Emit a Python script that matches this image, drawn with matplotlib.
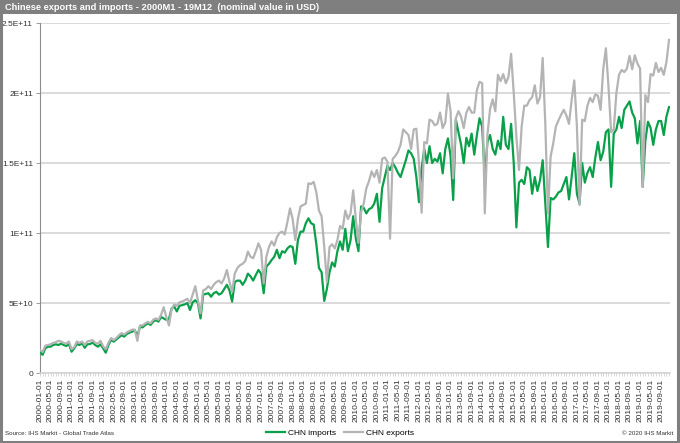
import numpy as np
import pandas as pd
import matplotlib
matplotlib.use('Agg')
from matplotlib import pyplot as plt
from matplotlib.patches import Rectangle

plt.rcParams['font.family'] = ['Liberation Sans', 'DejaVu Sans']

# monthly values, billions USD, 2000-01 .. 2019-12
exports = [
    16.5, 15.0, 19.5, 20.0, 20.5, 21.5, 22.0, 23.0, 22.5, 21.5, 21.0, 22.5,
    17.0, 18.5, 22.5, 21.5, 22.5, 20.0, 22.5, 23.0, 23.5, 21.5, 21.0, 23.0,
    19.0, 17.0, 21.5, 25.0, 23.5, 25.0, 27.0, 28.5, 27.5, 29.0, 30.0, 31.0,
    31.0, 23.0, 34.0, 34.0, 35.5, 36.5, 35.5, 38.0, 39.0, 38.0, 41.5, 47.0,
    40.0, 34.0, 45.5, 49.0, 48.0, 50.5, 51.0, 52.0, 53.0, 50.0, 56.0, 62.0,
    52.0, 42.6, 59.0, 60.0, 62.0, 60.0, 63.0, 65.0, 66.0, 64.0, 67.6, 73.6,
    65.0, 58.0, 71.0, 75.0, 77.0, 78.0, 80.0, 86.7, 83.0, 82.0, 87.0, 92.6,
    88.0, 64.0, 83.0, 90.0, 94.0, 91.0, 97.0, 100.0, 101.0, 99.0, 108.0, 117.6,
    110.0, 95.0, 110.0, 119.0, 120.0, 121.0, 135.5, 135.0, 136.5, 129.0, 116.0, 112.0,
    90.0, 65.0, 90.0, 92.0, 89.0, 95.0, 105.0, 103.0, 116.0, 110.0, 114.0, 130.5,
    110.0, 93.0, 115.0, 121.0, 132.0, 137.0, 144.0, 140.0, 145.0, 136.0, 153.0, 154.0,
    151.0, 96.0, 153.0, 155.0, 158.0, 163.0, 174.0, 172.0, 170.0, 160.0, 174.0, 174.5,
    150.0, 114.5, 165.0, 164.0, 181.0, 180.0, 177.0, 178.0, 186.0, 175.0, 179.0, 199.5,
    187.0, 139.0, 182.0, 187.0, 183.0, 175.0, 186.0, 190.0, 186.0, 186.0, 202.0, 208.0,
    207.0, 114.0, 170.0, 188.5, 195.5, 187.0, 213.0, 208.5, 213.5, 207.0, 211.5, 228.0,
    200.0, 169.0, 145.0, 176.0, 191.0, 191.0, 195.0, 197.0, 205.5, 192.5, 197.0, 225.0,
    177.5, 114.0, 154.5, 164.0, 176.0, 180.5, 184.5, 188.0, 184.0, 178.0, 195.0, 209.0,
    176.0, 120.0, 181.0, 180.0, 191.0, 196.5, 193.5, 199.0, 198.0, 188.0, 217.0, 232.0,
    204.5, 172.0, 174.0, 200.0, 213.0, 216.5, 215.0, 217.5, 226.5, 217.0, 227.0, 221.0,
    217.5, 133.0, 198.5, 193.5, 213.5, 212.5, 221.5, 215.0, 218.0, 213.0, 222.0, 238.0,
]
imports = [
    15.0, 13.0, 17.6, 18.8, 18.8, 20.0, 20.5, 20.0, 21.0, 20.0, 19.3, 20.7,
    15.2, 17.6, 20.7, 20.0, 21.2, 18.0, 20.5, 20.7, 21.7, 20.0, 18.8, 20.5,
    17.6, 14.5, 20.0, 23.6, 22.4, 24.0, 25.5, 27.0, 26.0, 27.9, 28.8, 29.5,
    30.7, 26.4, 33.0, 32.6, 34.3, 35.5, 34.3, 36.7, 37.8, 36.7, 40.0, 39.0,
    38.0, 38.5, 46.0, 47.5, 44.0, 48.0, 48.5, 49.0, 50.0, 45.0, 50.5, 52.0,
    50.0, 39.0, 56.0, 56.5, 57.0, 54.5, 57.0, 58.0, 56.0, 57.0, 60.0, 63.0,
    59.0, 51.0, 65.0, 66.0, 66.0, 63.0, 66.0, 71.0, 69.0, 66.0, 70.0, 73.6,
    71.0, 57.0, 76.0, 78.0, 80.7, 83.0, 88.0, 82.0, 87.0, 86.0, 89.0, 90.7,
    90.0, 78.0, 95.0, 101.0, 101.0, 107.0, 110.5, 107.0, 106.0, 92.0, 75.0, 72.0,
    51.5, 60.0, 72.0, 79.0, 76.0, 87.0, 94.0, 88.0, 103.0, 87.0, 95.0, 112.0,
    96.0, 87.0, 119.0, 118.0, 114.0, 117.0, 118.0, 121.0, 128.0, 108.0, 132.0, 140.0,
    148.0, 145.0, 150.0, 147.0, 143.0, 140.0, 146.0, 152.0, 159.0, 157.0, 153.0, 140.0,
    122.0, 146.0, 160.0, 150.0, 162.0, 150.0, 153.0, 151.0, 157.0, 142.6, 160.0, 167.6,
    155.0, 123.6, 181.0, 172.0, 163.0, 150.0, 168.0, 162.0, 171.0, 156.0, 170.0, 182.0,
    176.0, 140.0, 165.0, 170.0, 160.0, 156.0, 166.0, 160.0, 183.0, 163.0, 160.0, 178.0,
    150.0, 104.0, 136.0, 138.0, 135.0, 147.0, 145.0, 128.0, 140.0, 130.0, 138.0, 152.0,
    121.0, 90.0, 125.0, 124.0, 126.0, 129.0, 130.0, 135.0, 140.0, 124.0, 140.0, 157.0,
    128.0, 121.0, 150.0, 136.0, 143.0, 147.0, 140.0, 154.0, 165.0, 152.0, 158.0, 172.0,
    174.0, 133.0, 171.0, 174.0, 183.0, 175.0, 188.0, 191.0, 194.0, 186.0, 182.0, 164.0,
    180.0, 133.0, 166.0, 179.5, 175.0, 163.0, 174.0, 180.0, 180.0, 170.0, 183.0, 190.0,
]
months = pd.date_range('2000-01-01', '2019-12-01', freq='MS')
tick_labels = [d.strftime('%Y-%m-%d') for d in months[::4]]
y_ticks = [0, 5e10, 1e11, 1.5e11, 2e11, 2.5e11]
y_labels = ['0', '5E+10', '1E+11', '1.5E+11', '2E+11', '2.5E+11']

green = '#0aa04a'
grey = '#b4b4b4'

fig = plt.figure(figsize=(6.8, 4.43), dpi=100)
# frame and title bar
fig.patches.append(Rectangle((0.002, 0.003), 0.995, 0.994, transform=fig.transFigure,
                             fill=False, edgecolor='#7f7f7f', linewidth=2.2, zorder=0))
fig.patches.append(Rectangle((0, 0.968), 1, 0.032, transform=fig.transFigure,
                             facecolor='#7f7f7f', edgecolor='none', zorder=0))
fig.text(0.008, 0.984, 'Chinese exports and imports - 2000M1 - 19M12  (nominal value in USD)',
         color='white', fontsize=6.7, fontweight='bold', va='center', ha='left')

ax = fig.add_axes([0.0588, 0.158, 0.927, 0.790])
x = np.arange(len(months))
ax.plot(x, np.array(imports) * 1e9, color=green, lw=1.6, label='CHN imports', zorder=3)
ax.plot(x, np.array(exports) * 1e9, color=grey, lw=1.6, label='CHN exports', zorder=4)

ax.set_ylim(0, 2.5e11)
ax.set_xlim(0, len(months) - 0.5)
ax.set_yticks(y_ticks)
ax.set_yticklabels(y_labels, fontsize=6, color='#333333')
ax.set_xticks(x[::4])
ax.set_xticklabels(tick_labels, rotation=90, fontsize=6.0, color='#333333')
ax.set_xticks(x, minor=True)
ax.grid(axis='y', color='#d4d4d4', lw=1.2)
ax.set_axisbelow(True)
for s in ['top', 'right']:
    ax.spines[s].set_visible(False)
ax.spines['left'].set_color('#8c8c8c')
ax.spines['bottom'].set_color('#d4d4d4')
ax.spines['bottom'].set_linewidth(1.2)
ax.tick_params(axis='y', length=3, width=0.6, color='#8c8c8c', pad=2)
ax.tick_params(axis='x', which='both', length=2, width=0.5, color='#c8c8c8', pad=2)

handles, labels = ax.get_legend_handles_labels()
fig.legend(handles, labels, loc='center', bbox_to_anchor=(0.5, 0.022), ncol=2, frameon=False,
           fontsize=6, handlelength=2.3, columnspacing=1.0, handletextpad=0.3,
           borderpad=0, borderaxespad=0)
fig.text(0.008, 0.022, 'Source: IHS Markit - Global Trade Atlas', fontsize=4.5, color='#333333',
         va='center')
fig.text(0.99, 0.022, '\u00a9 2020 IHS Markit', fontsize=4.5, color='#333333', ha='right',
         va='center')

fig.savefig('out.png', dpi=100)
